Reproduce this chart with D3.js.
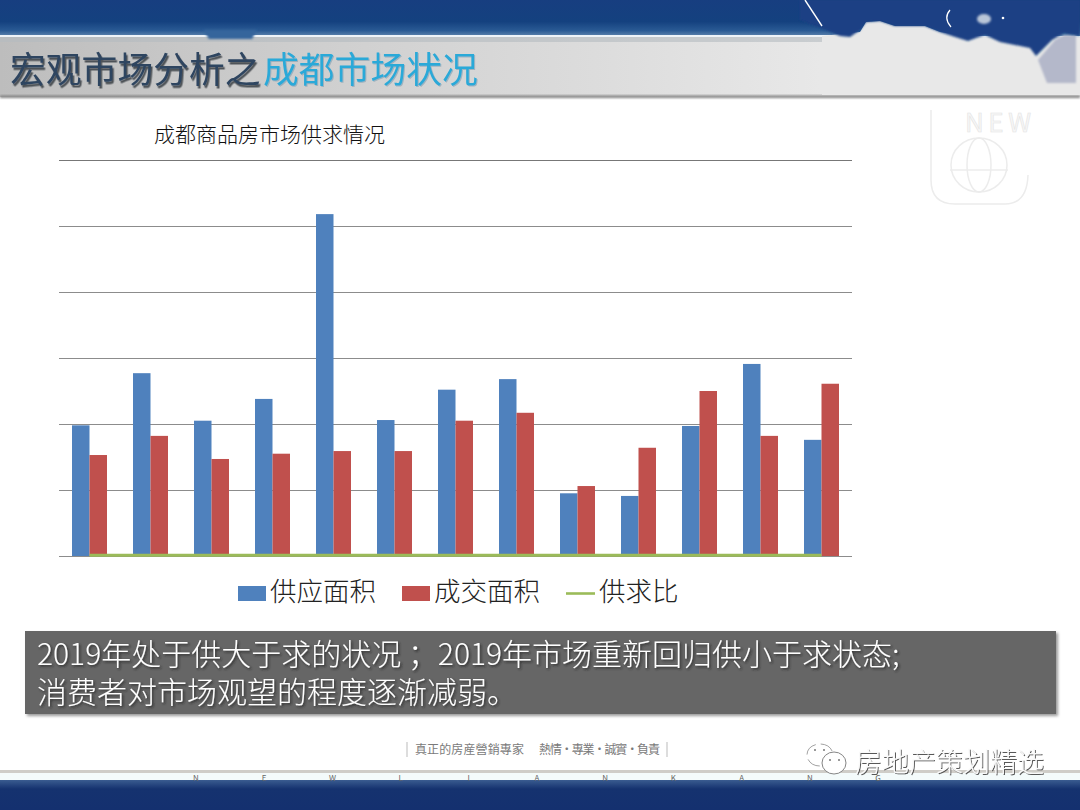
<!DOCTYPE html>
<html><head><meta charset="utf-8">
<script src="https://cdn.jsdelivr.net/npm/d3@7/dist/d3.min.js"></script>
<style>
html,body{margin:0;padding:0;background:#fff}
svg{display:block}
text{font-family:"Noto Sans CJK SC","Noto Sans",sans-serif}
</style></head><body><svg id="c" width="1080" height="810"></svg>
<script>
const chartTitle = "成都商品房市场供求情况";
const categories = ["1","2","3","4","5","6","7","8","9","10","11","12","13"];
const supply = [198,277,205,238,518,206,252,268,95,91,197,291,176];
const deal = [153,182,147,155,159,159,205,217,106,164,250,182,261];
const ratio = [1,1,1,1,1,1,1,1,1,1,1,1,1];
const gridTicks = [0,100,200,300,400,500,600];
const seriesNames = ["供应面积","成交面积","供求比"];
const seriesColors = ["#4f81bd","#c0504d","#9bbb59"];
const titleParts = ["宏观市场分析之","成都市场状况"];
const noteLines = ["2019年处于供大于求的状况 ；2019年市场重新回归供小于求状态;","消费者对市场观望的程度逐渐减弱。"];
const footerParts = ["真正的房産營銷專家","熱情·專業·誠實·負責"];
const footerLetters = ["N","E","W","L","I","A","N","K","A","N","G"];
const watermark = "房地产策划精选";

const svg = d3.select("#c");
const defs = svg.append("defs");
function grad(id, stops, x2=0, y2=1){
  const g = defs.append("linearGradient").attr("id",id).attr("x1",0).attr("y1",0).attr("x2",x2).attr("y2",y2);
  stops.forEach(s=>g.append("stop").attr("offset",s[0]).attr("stop-color",s[1]));
}
function shadow(id,dx,dy,sd,color,op){
  const f = defs.append("filter").attr("id",id).attr("x","-5%").attr("y","-30%").attr("width","110%").attr("height","160%");
  f.append("feDropShadow").attr("dx",dx).attr("dy",dy).attr("stdDeviation",sd).attr("flood-color",color).attr("flood-opacity",op);
}
grad("top",[[0,"#173e80"],[0.6,"#14417f"],[0.85,"#2a5a94"],[1,"#5d83ad"]]);
grad("band",[[0,"#bdbdbd"],[0.3,"#cfcfcf"],[0.55,"#dcdcdc"],[0.76,"#e8e8e8"],[1,"#e8e8e8"]],1,0);
grad("bottom",[[0,"#3a5c90"],[0.3,"#15326f"],[1,"#14306f"]]);
shadow("hs1",1.5,2.5,0.5,"#3a3f45",.85);
shadow("hs2",1,1,0.6,"#7d9db0",.6);
shadow("ns",1.5,1.5,0.8,"#222",.8);
shadow("ws",1,1,0.3,"#444",.9);
const blur = defs.append("filter").attr("id","soft").attr("x","-10%").attr("y","-50%").attr("width","120%").attr("height","200%");
blur.append("feGaussianBlur").attr("stdDeviation",1.5);
const blur2 = defs.append("filter").attr("id","soft2").attr("x","-10%").attr("y","-50%").attr("width","120%").attr("height","200%");
blur2.append("feGaussianBlur").attr("stdDeviation",0.8);

// slide header
svg.append("rect").attr("width",1080).attr("height",36).attr("fill","url(#top)");
svg.append("rect").attr("y",35).attr("width",875).attr("height",2).attr("fill","#eef3f8");
svg.append("rect").attr("y",37).attr("width",1080).attr("height",60).attr("fill","url(#band)");
svg.append("rect").attr("y",37).attr("width",822).attr("height",5).attr("fill","#b4babf").attr("opacity",.6);
svg.append("rect").attr("y",95.5).attr("width",1080).attr("height",2.5).attr("fill","#808080").attr("filter","url(#soft2)");
svg.append("path").attr("d","M203,30 H257 L252,39 H209Z").attr("fill","#34659c").attr("filter","url(#soft2)");
// torn corner: light sheet under the blue edge
svg.append("path").attr("fill","#e8e8e8")
  .attr("d","M822,36 L860,32 L866,22 L880,21 L895,26 L925,26 L940,32 L1000,42 L1040,60 L1050,83 L1080,83 L1080,95 L822,95Z");
svg.append("path").attr("fill","#b4b8ca").attr("filter","url(#soft2)")
  .attr("d","M1047,83 L1038,60 L1055,40 L1064,35 L1076,35 L1076,83Z");
svg.append("path").attr("fill","#1a4184").attr("filter","url(#soft2)")
  .attr("d","M800,0 H1080 V36 L1064,33 L1052,40 L1036,56 L1030,48 L1000,42 L985,35 L976,38 L968,41 L955,37 L940,32 L925,26 L895,26 L880,21 L866,22 L860,30 L850,37 L840,36 L826,30 L800,20Z");
svg.append("line").attr("x1",805).attr("y1",0).attr("x2",822).attr("y2",26).attr("stroke","#fff").attr("stroke-width",1.4);
svg.append("path").attr("d","M950,10 Q943,18 951,27").attr("fill","none").attr("stroke","#fff").attr("stroke-width",1.2);
svg.append("ellipse").attr("cx",984).attr("cy",19).attr("rx",7).attr("ry",5).attr("fill","#b9c6d8").attr("filter","url(#soft2)");
svg.append("circle").attr("cx",1003).attr("cy",18).attr("r",1.3).attr("fill","#fff");

// heading
const hy = 83, hs = 35.8;
[[titleParts[0],10,"#2e4560","hs1"],[titleParts[1],263,"#29a9d8","hs2"]].forEach(([t,x,c,f])=>{
  svg.append("text").attr("x",x).attr("y",hy).attr("font-size",hs).attr("fill",c).attr("filter",`url(#${f})`).text(t);
});

// faint logo
const logo = svg.append("g").attr("fill","none").attr("stroke","#ececec").attr("stroke-width",1.5);
logo.append("path").attr("d","M931,110 V180 Q931,204 955,204 H1005 Q1027,204 1028,175");
logo.append("ellipse").attr("cx",979).attr("cy",165).attr("rx",28).attr("ry",27);
logo.append("ellipse").attr("cx",979).attr("cy",165).attr("rx",12).attr("ry",27);
logo.append("line").attr("x1",950).attr("y1",170).attr("x2",1008).attr("y2",170);
svg.append("text").attr("x",965).attr("y",132).attr("font-size",26).attr("fill","#f7f7f7").attr("stroke","#e4e4e4").attr("stroke-width",.6).attr("textLength",66).text("NEW");

// chart
const x0 = d3.scaleBand().domain(categories).range([59,852]).paddingInner(0).paddingOuter(0);
const barW = 17.5;
const x1 = d3.scaleBand().domain(["s","d"]).range([x0.bandwidth()/2-barW,x0.bandwidth()/2+barW]);
const y = d3.scaleLinear().domain([0,600]).range([556,160]);
const ax = svg.append("g").attr("transform","translate(59,0)")
  .call(d3.axisRight(y).tickValues(gridTicks).tickSize(793).tickFormat(""));
ax.select(".domain").remove();
ax.selectAll("line").attr("stroke","#8c8c8c").attr("stroke-width",1);
ax.selectAll(".tick").filter(d=>d===600).select("line").attr("stroke","#777");
svg.append("text").attr("x",154).attr("y",142).attr("font-size",21).attr("font-weight",300).attr("fill","#111").text(chartTitle);

const groups = svg.append("g").selectAll("g").data(categories).join("g").attr("transform",d=>`translate(${x0(d)},0)`);
groups.append("rect").attr("x",x1("s")).attr("width",x1.bandwidth()).attr("y",(d,i)=>y(supply[i])).attr("height",(d,i)=>y(0)-y(supply[i])).attr("fill",seriesColors[0]);
groups.append("rect").attr("x",x1("d")).attr("width",x1.bandwidth()).attr("y",(d,i)=>y(deal[i])).attr("height",(d,i)=>y(0)-y(deal[i])).attr("fill",seriesColors[1]);
svg.append("path").datum(ratio).attr("fill","none").attr("stroke",seriesColors[2]).attr("stroke-width",3)
  .attr("d",d3.line().x((d,i)=>x0(categories[i])+x0.bandwidth()/2).y(d=>y(d)));

// legend
const lg = svg.append("g");
[[238,270],[402,434]].forEach(([rx,tx],i)=>{
  lg.append("rect").attr("x",rx).attr("y",586).attr("width",28).attr("height",15).attr("fill",seriesColors[i]);
  lg.append("text").attr("x",tx).attr("y",601).attr("font-size",26.5).attr("font-weight",300).attr("fill","#222").text(seriesNames[i]);
});
lg.append("line").attr("x1",566).attr("x2",595).attr("y1",593.5).attr("y2",593.5).attr("stroke",seriesColors[2]).attr("stroke-width",2.6);
lg.append("text").attr("x",599).attr("y",601).attr("font-size",26.5).attr("font-weight",300).attr("fill","#222").text(seriesNames[2]);

// note box
svg.append("rect").attr("x",27).attr("y",633).attr("width",1031).attr("height",83).attr("fill","#999").attr("filter","url(#soft)");
svg.append("rect").attr("x",25).attr("y",631).attr("width",1031).attr("height",83).attr("fill","#666666");
svg.selectAll(".note").data(noteLines).join("text").attr("class","note").attr("x",37).attr("y",(d,i)=>665+i*38).attr("font-size",30).attr("font-weight",300).attr("fill","#fff").attr("filter","url(#ns)").text(d=>d);

// footer
svg.append("text").attr("x",415).attr("y",754).attr("font-size",12).attr("fill","#7a7a7a").attr("textLength",109).text(footerParts[0]);
svg.append("text").attr("x",539).attr("y",754).attr("font-size",12).attr("fill","#7a7a7a").attr("textLength",121).text(footerParts[1]);
svg.append("path").attr("d","M407,742V757M667,742V757").attr("stroke","#bbb");
svg.append("rect").attr("y",770).attr("width",1080).attr("height",3).attr("fill","#cfcdc8");
svg.append("rect").attr("y",773).attr("width",1080).attr("height",8).attr("fill","#f4fbfb");
svg.append("rect").attr("y",780).attr("width",1080).attr("height",30).attr("fill","url(#bottom)");
const lx = d3.scalePoint().domain(d3.range(footerLetters.length)).range([196,878]);
svg.selectAll(".lt").data(footerLetters).join("text").attr("class","lt").attr("x",(d,i)=>lx(i)).attr("y",781).attr("font-size",8).attr("fill","#666").attr("text-anchor","middle").text(d=>d);

// watermark
const wm = svg.append("g");
wm.append("ellipse").attr("cx",820).attr("cy",755).attr("rx",13).attr("ry",11).attr("fill","#fff").attr("stroke","#8a8a8a").attr("stroke-width",.8).attr("stroke-dasharray","14 5");
wm.append("ellipse").attr("cx",834).attr("cy",763).attr("rx",12).attr("ry",11).attr("fill","#fff").attr("stroke","#777").attr("stroke-width",.9);
[[815,750],[824,750],[830,760],[839,760]].forEach(([cx,cy])=>wm.append("circle").attr("cx",cx).attr("cy",cy).attr("r",1).attr("fill","#777"));
svg.append("text").attr("x",855).attr("y",772).attr("font-size",27).attr("font-weight",300).attr("fill","#fafafa").attr("filter","url(#ws)").text(watermark);
</script></body></html>
